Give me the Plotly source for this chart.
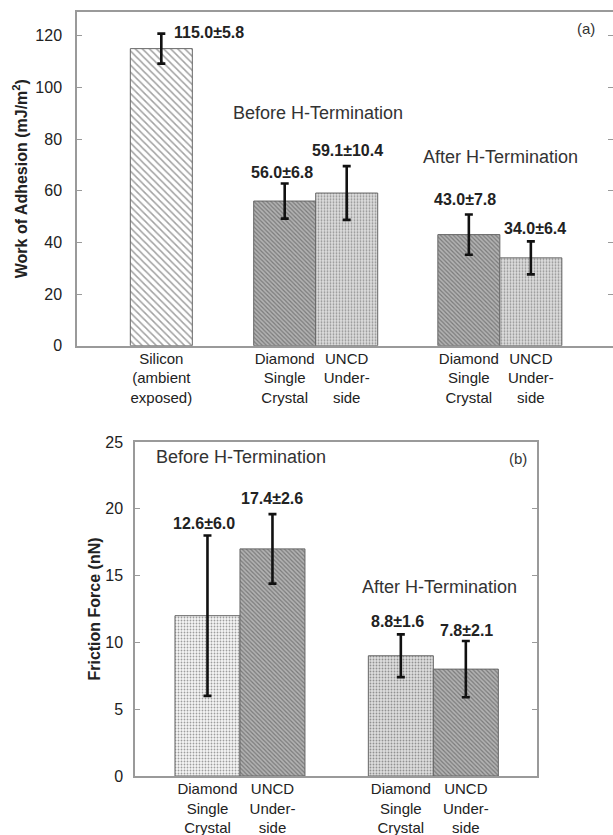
import plotly.graph_objects as go

# ---------------- data: panel (a) ----------------
cats_a = ["Silicon<br>(ambient<br>exposed)",
          "Diamond<br>Single<br>Crystal", "UNCD<br>Under-<br>side",
          "Diamond<br>Single<br>Crystal", "UNCD<br>Under-<br>side"]
adhesion = [115.0, 56.0, 59.1, 43.0, 34.0]
adhesion_err = [5.8, 6.8, 10.4, 7.8, 6.4]
adhesion_labels = ["115.0±5.8", "56.0±6.8", "59.1±10.4", "43.0±7.8", "34.0±6.4"]
yticks_a = [0, 20, 40, 60, 80, 100, 120]

# ---------------- data: panel (b) ----------------
cats_b = ["Diamond<br>Single<br>Crystal", "UNCD<br>Under-<br>side",
          "Diamond<br>Single<br>Crystal", "UNCD<br>Under-<br>side"]
friction = [12.0, 17.0, 9.0, 8.0]
friction_err = [6.0, 2.6, 1.6, 2.1]
friction_labels = ["12.6±6.0", "17.4±2.6", "8.8±1.6", "7.8±2.1"]
yticks_b = [0, 5, 10, 15, 20, 25]

# ---------------- layout (positions / styles) ----------------
pos_a = [1.36, 3.35, 4.35, 6.32, 7.32]
pos_b = [1.115, 2.115, 4.09, 5.09]
lbl_pos_a = [(1.53, 121.3, "left"), (3.30, 67.0, "center"), (4.36, 75.5, "center"),
             (6.26, 56.7, "center"), (7.39, 45.4, "center")]
lbl_pos_b = [(1.066, 18.9), (2.103, 20.8), (4.045, 11.6), (5.104, 10.9)]

FONT = "Liberation Sans, Arial, Helvetica, sans-serif"
AX = "#9a9a9a"
TXT = "#222222"

# pattern styles
HATCH = dict(shape="\\", bg="#ffffff", fg="#4a4a4a", size=5, sol=0.3)
DARK = dict(shape="\\", bg="#b2b2b2", fg="#7c7c7c", size=3, sol=0.4)
NOISE = dict(shape=".", bg="#dedede", fg="#a4a4a4", size=3, sol=0.3)
DOTS = dict(shape=".", bg="#f6f6f6", fg="#b5b5b5", size=3, sol=0.3)

styles_a = [HATCH, DARK, NOISE, DARK, NOISE]
styles_b = [DOTS, DARK, NOISE, DARK]


def bar(x, y, err, styles, xa, ya):
    return go.Bar(
        x=x, y=y, width=1.0, xaxis=xa, yaxis=ya,
        marker=dict(
            color=[s["bg"] for s in styles],
            line=dict(color="#666666", width=1),
            pattern=dict(shape=[s["shape"] for s in styles],
                         bgcolor=[s["bg"] for s in styles],
                         fgcolor=[s["fg"] for s in styles],
                         size=[s["size"] for s in styles],
                         solidity=[s["sol"] for s in styles],
                         fillmode="overlay"),
        ),
        error_y=dict(type="data", array=err, visible=True, color="#111111",
                     thickness=2.6, width=4),
        showlegend=False, hoverinfo="skip",
    )


fig = go.Figure()
fig.add_trace(bar(pos_a, adhesion, adhesion_err, styles_a, "x", "y"))
fig.add_trace(bar(pos_b, friction, friction_err, styles_b, "x2", "y2"))

ann = []
for (x, y, anc), t in zip(lbl_pos_a, adhesion_labels):
    ann.append(dict(x=x, y=y, xref="x", yref="y", text="<b>" + t + "</b>",
                    xanchor=anc, yanchor="middle", showarrow=False,
                    font=dict(size=16, color=TXT, family=FONT)))
for (x, y), t in zip(lbl_pos_b, friction_labels):
    ann.append(dict(x=x, y=y, xref="x2", yref="y2", text="<b>" + t + "</b>",
                    xanchor="center", yanchor="middle", showarrow=False,
                    font=dict(size=16, color=TXT, family=FONT)))
group_txt = [("Before H-Termination", 3.89, 90.0, "x", "y"),
             ("After H-Termination", 6.83, 72.9, "x", "y"),
             ("Before H-Termination", 1.637, 23.85, "x2", "y2"),
             ("After H-Termination", 4.683, 14.12, "x2", "y2")]
for t, x, y, xr, yr in group_txt:
    ann.append(dict(x=x, y=y, xref=xr, yref=yr, text=t, showarrow=False,
                    xanchor="center", yanchor="middle",
                    font=dict(size=18, color="#333333", family=FONT)))
ann.append(dict(x=8.21, y=122.9, xref="x", yref="y", text="(a)", showarrow=False,
                font=dict(size=15, color="#333333", family=FONT)))
ann.append(dict(x=5.89, y=23.78, xref="x2", yref="y2", text="(b)", showarrow=False,
                font=dict(size=15, color="#333333", family=FONT)))

xcommon = dict(showgrid=False, zeroline=False, showline=True, linecolor=AX,
               linewidth=2, mirror=True, ticks="", automargin=False,
               ticklabelstandoff=-2,
               tickfont=dict(size=15, color=TXT, family=FONT))
ycommon = dict(showgrid=False, zeroline=False, showline=True, linecolor=AX,
               linewidth=1.5, mirror="allticks", ticks="inside", ticklen=5,
               tickcolor=AX, automargin=False,
               tickfont=dict(size=16, color=TXT, family=FONT))

fig.update_layout(
    width=613, height=835,
    margin=dict(l=0, r=0, t=0, b=0),
    paper_bgcolor="white", plot_bgcolor="white",
    font=dict(family=FONT, color=TXT),
    xaxis=dict(xcommon, domain=[77 / 613, 1.0], range=[0, 8.645],
               tickvals=pos_a, ticktext=cats_a, anchor="y"),
    yaxis=dict(ycommon, domain=[(835 - 345.7) / 835, (835 - 11.7) / 835],
               range=[0, 129.3], tickvals=yticks_a, anchor="x",
               ticklabelstandoff=10,
               title=dict(text="<b>Work of Adhesion (mJ/m<sup>2</sup>)</b>",
                          font=dict(size=16, color=TXT, family=FONT), standoff=4)),
    xaxis2=dict(xcommon, domain=[135 / 613, 537 / 613], range=[0, 6.185],
                tickvals=pos_b, ticktext=cats_b, anchor="y2"),
    yaxis2=dict(ycommon, domain=[(835 - 776) / 835, (835 - 442) / 835],
                range=[0, 25], tickvals=yticks_b, anchor="x2",
                ticklabelstandoff=7,
                title=dict(text="<b>Friction Force (nN)</b>",
                           font=dict(size=16, color=TXT, family=FONT), standoff=1)),
    annotations=ann,
)

fig.write_html("out.html",
               config={"displayModeBar": False},
               post_script="document.body.style.margin='0px';"
                           "document.body.style.padding='0px';")
